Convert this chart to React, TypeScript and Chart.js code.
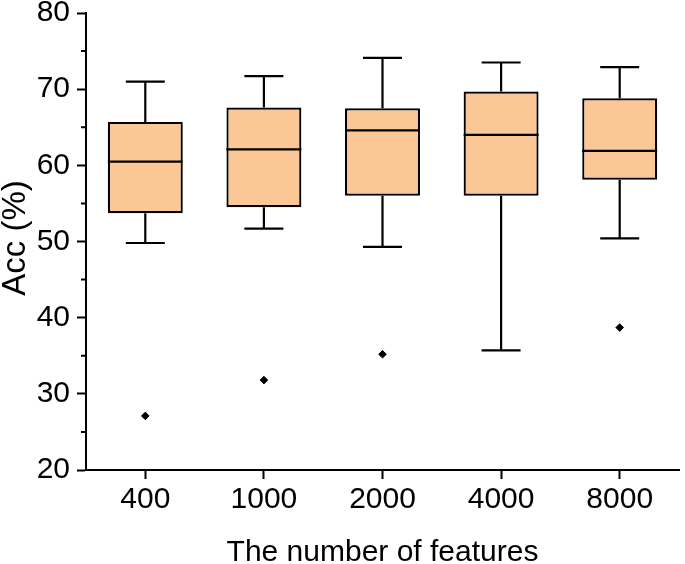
import React, { useEffect, useRef } from 'react';
import { Chart, registerables } from 'chart.js';

Chart.register(...registerables);

const categories = ['400', '1000', '2000', '4000', '8000'];
const whiskerLow = [49.8, 51.7, 49.3, 35.7, 50.4];
const q1 = [53.7, 54.5, 56.0, 56.0, 58.1];
const median = [60.5, 62.1, 64.6, 64.0, 61.9];
const q3 = [65.7, 67.6, 67.5, 69.7, 68.8];
const whiskerHigh = [71.0, 71.7, 74.1, 73.5, 72.9];
const outliers = [27.1, 31.8, 35.2, null, 38.7];
const yMinorTicks = [25, 35, 45, 55, 65, 75];

const xTitle = 'The number of features';
const yTitle = 'Acc (%)';

const FONT = "'Liberation Sans', Arial, sans-serif";

const boxPlugin = {
  id: 'boxWhiskers',
  afterDatasetsDraw(chart: any) {
    const meta = chart.getDatasetMeta(0);
    const y = chart.scales.y;
    const ctx = chart.ctx;
    ctx.save();
    ctx.strokeStyle = '#000';
    ctx.lineWidth = 2.2;
    meta.data.forEach((bar: any, i: number) => {
      const cx = bar.x;
      const w = bar.width;
      const cap = w * 0.52;
      const pLow = y.getPixelForValue(whiskerLow[i]);
      const pQ1 = y.getPixelForValue(q1[i]);
      const pMed = y.getPixelForValue(median[i]);
      const pQ3 = y.getPixelForValue(q3[i]);
      const pHigh = y.getPixelForValue(whiskerHigh[i]);
      ctx.beginPath();
      ctx.moveTo(cx, pQ3);
      ctx.lineTo(cx, pHigh);
      ctx.moveTo(cx - cap / 2, pHigh);
      ctx.lineTo(cx + cap / 2, pHigh);
      ctx.moveTo(cx, pQ1);
      ctx.lineTo(cx, pLow);
      ctx.moveTo(cx - cap / 2, pLow);
      ctx.lineTo(cx + cap / 2, pLow);
      ctx.moveTo(cx - w / 2, pMed);
      ctx.lineTo(cx + w / 2, pMed);
      ctx.stroke();
    });
    // minor ticks on y axis
    const left = chart.chartArea.left;
    ctx.lineWidth = 2;
    ctx.beginPath();
    yMinorTicks.forEach((v) => {
      const p = y.getPixelForValue(v);
      ctx.moveTo(left - 5, p);
      ctx.lineTo(left, p);
    });
    ctx.stroke();
    ctx.restore();
  },
  afterDraw(chart: any) {
    const ctx = chart.ctx;
    const area = chart.chartArea;
    ctx.save();
    ctx.fillStyle = '#000';
    ctx.font = `30px ${FONT}`;
    ctx.textAlign = 'center';
    ctx.textBaseline = 'alphabetic';
    ctx.fillText(xTitle, (area.left + area.right) / 2, 561);
    ctx.translate(25, 238);
    ctx.rotate(-Math.PI / 2);
    ctx.font = `33px ${FONT}`;
    ctx.fillText(yTitle, 0, 0);
    ctx.restore();
  },
};

export default function App() {
  const ref = useRef<HTMLCanvasElement>(null);
  useEffect(() => {
    if (!ref.current) return;
    const chart = new Chart(ref.current, {
      type: 'bar',
      data: {
        labels: categories,
        datasets: [
          {
            type: 'bar',
            data: q1.map((v, i) => [v, q3[i]]) as any,
            backgroundColor: '#FBC895',
            borderColor: '#000',
            borderWidth: 2.2,
            borderSkipped: false,
            barPercentage: 0.632,
            categoryPercentage: 1,
          },
          {
            type: 'line',
            data: outliers as any,
            showLine: false,
            pointStyle: 'rectRot',
            pointRadius: 3.8,
            pointBackgroundColor: '#000',
            pointBorderColor: '#000',
            pointBorderWidth: 1,
          } as any,
        ],
      },
      options: {
        animation: false,
        responsive: false,
        devicePixelRatio: 1,
        layout: { padding: { top: 13, right: 6, left: 0, bottom: 0 } },
        plugins: { legend: { display: false }, tooltip: { enabled: false } },
        scales: {
          x: {
            type: 'category',
            offset: true,
            grid: {
              display: true,
              offset: false,
              drawOnChartArea: false,
              drawTicks: true,
              tickLength: 9,
              tickWidth: 2,
              tickColor: '#000',
            },
            border: { display: true, color: '#000', width: 2 },
            ticks: {
              color: '#000',
              font: { family: FONT, size: 30 },
              padding: 3,
              maxRotation: 0,
              autoSkip: false,
            },
            afterFit: (s: any) => {
              s.height = 94;
              s.paddingLeft = 0;
              s.paddingRight = 0;
            },
          },
          y: {
            min: 20,
            max: 80,
            grid: {
              display: true,
              drawOnChartArea: false,
              drawTicks: true,
              tickLength: 9,
              tickWidth: 2,
              tickColor: '#000',
            },
            border: { display: true, color: '#000', width: 2 },
            ticks: {
              stepSize: 10,
              color: '#000',
              font: { family: FONT, size: 30 },
              padding: 7,
            },
            afterFit: (s: any) => {
              s.width = 86;
              s.paddingTop = 0;
              s.paddingBottom = 0;
            },
          },
        },
      },
      plugins: [boxPlugin],
    });
    return () => chart.destroy();
  }, []);
  return (
    <div style={{ position: 'fixed', left: 0, top: 0, width: 685, height: 564, background: '#fff' }}>
      <canvas ref={ref} width={685} height={564} />
    </div>
  );
}
